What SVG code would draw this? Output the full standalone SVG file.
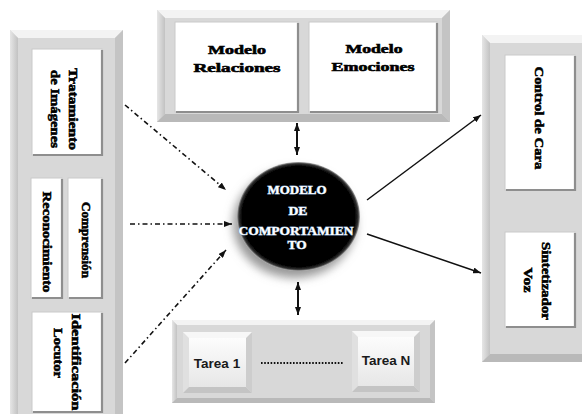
<svg xmlns="http://www.w3.org/2000/svg" width="582" height="414" viewBox="0 0 582 414">
<style>
.face{fill:#d8d8d8}
.bt{fill:#f3f3f3}
.bl{fill:url(#gl)}
.br{fill:#c4c4c4}
.bb{fill:#b9b9b9}
.card{fill:#ffffff;stroke:#c9c9c9;stroke-width:1}
.cshadow{fill:none;stroke:#8e8e8e;stroke-width:2.2}
.lbl{font-family:"Liberation Serif",serif;font-weight:bold;font-size:12px;fill:#000;stroke:#000;stroke-width:0.55;text-anchor:middle}
.ctx{font-family:"Liberation Serif",serif;font-weight:bold;font-size:11.5px;fill:#fff;stroke:#7d9cbc;stroke-width:0.9;paint-order:stroke;text-anchor:middle}
.task{font-family:"Liberation Sans",Arial,sans-serif;font-weight:bold;font-size:13.5px;fill:#1a1a1a;text-anchor:middle}
.dd{fill:none;stroke:#111;stroke-width:1.6;stroke-dasharray:5 3 1.5 3}
.sol{fill:none;stroke:#111;stroke-width:1.5}
.dbl{fill:none;stroke:#111;stroke-width:2}
</style>
<defs>
<linearGradient id="gl" x1="0" y1="0" x2="1" y2="0">
<stop offset="0" stop-color="#e6e6e6"/><stop offset="1" stop-color="#c2c2c2"/>
</linearGradient>
<linearGradient id="btn" x1="0" y1="0" x2="0" y2="1">
<stop offset="0" stop-color="#ffffff"/><stop offset="1" stop-color="#e4e4e4"/>
</linearGradient>
<radialGradient id="ball" cx="0.5" cy="0.5" r="0.5">
<stop offset="0.92" stop-color="#000"/><stop offset="0.97" stop-color="#333"/><stop offset="1" stop-color="#b0b0b0"/>
</radialGradient>
<filter id="shd" x="-30%" y="-30%" width="160%" height="170%">
<feDropShadow dx="-4" dy="7" stdDeviation="5" flood-color="#777" flood-opacity="0.75"/>
</filter>
<marker id="ah" viewBox="0 0 8 6" refX="8" refY="3" markerWidth="8" markerHeight="6" markerUnits="userSpaceOnUse" orient="auto-start-reverse">
<path d="M0,0 L8,3 L0,6 z" fill="#111"/>
</marker>
</defs>
<rect width="582" height="414" fill="#ffffff"/>

<!-- Left panel -->
<g id="panel-left">
<rect class="face" x="10" y="30" width="113" height="394"/>
<polygon class="bt" points="10,30 123,30 115,38 18,38"/>
<polygon class="bl" points="10,30 18,38 18,416 10,424"/>
<polygon class="br" points="123,30 123,424 115,416 115,38"/>
</g>
<g id="node-tratamiento">
<rect class="card" x="32" y="49" width="70" height="106"/>
<path class="cshadow" d="M102,50 V155 H33"/>
<text class="lbl" transform="translate(73,109) rotate(90)" dy="0.35em" textLength="82" lengthAdjust="spacingAndGlyphs">Tratamiento</text>
<text class="lbl" transform="translate(55,109) rotate(90)" dy="0.35em" textLength="78" lengthAdjust="spacingAndGlyphs">de Imágenes</text>
</g>
<g id="node-reconocimiento">
<rect class="card" x="31" y="178" width="31" height="120"/>
<path class="cshadow" d="M62,179 V298 H32"/>
<text class="lbl" transform="translate(47,242) rotate(90)" dy="0.35em" textLength="101" lengthAdjust="spacingAndGlyphs">Reconocimiento</text>
</g>
<g id="node-comprension">
<rect class="card" x="68" y="178" width="34" height="120"/>
<path class="cshadow" d="M102,179 V298 H69"/>
<text class="lbl" transform="translate(86,240) rotate(90)" dy="0.35em" textLength="76" lengthAdjust="spacingAndGlyphs">Comprensión</text>
</g>
<g id="node-identificacion">
<rect class="card" x="32" y="312" width="70" height="100"/>
<path class="cshadow" d="M102,313 V412 H33"/>
<text class="lbl" transform="translate(76,362) rotate(90)" dy="0.35em" textLength="97" lengthAdjust="spacingAndGlyphs">Identificación</text>
<text class="lbl" transform="translate(58,353) rotate(90)" dy="0.35em" textLength="50" lengthAdjust="spacingAndGlyphs">Locutor</text>
</g>

<!-- Top panel -->
<g id="panel-top">
<rect class="face" x="157" y="10" width="293" height="112"/>
<polygon class="bt" points="157,10 450,10 442,18 165,18"/>
<polygon class="bl" points="157,10 165,18 165,114 157,122"/>
<polygon class="br" points="450,10 450,122 442,114 442,18"/>
<polygon class="bb" points="157,122 450,122 442,114 165,114"/>
</g>
<g id="node-relaciones">
<rect class="card" x="175" y="22" width="123" height="90"/>
<path class="cshadow" d="M298,23 V112 H176"/>
<text class="lbl" x="237" y="54" textLength="58" lengthAdjust="spacingAndGlyphs">Modelo</text>
<text class="lbl" x="237" y="72" textLength="87" lengthAdjust="spacingAndGlyphs">Relaciones</text>
</g>
<g id="node-emociones">
<rect class="card" x="309" y="22" width="128" height="90"/>
<path class="cshadow" d="M437,23 V112 H310"/>
<text class="lbl" x="374" y="53" textLength="57" lengthAdjust="spacingAndGlyphs">Modelo</text>
<text class="lbl" x="373" y="71" textLength="83" lengthAdjust="spacingAndGlyphs">Emociones</text>
</g>

<!-- Right panel -->
<g id="panel-right">
<rect class="face" x="482" y="35" width="110" height="327"/>
<polygon class="bt" points="482,35 592,35 592,43 490,43"/>
<polygon class="bl" points="482,35 490,43 490,354 482,362"/>
<polygon class="bb" points="482,362 592,362 592,354 490,354"/>
</g>
<g id="node-control-cara">
<rect class="card" x="505" y="55" width="70" height="135"/>
<path class="cshadow" d="M575,56 V190 H506"/>
<text class="lbl" transform="translate(539,118) rotate(90)" dy="0.35em" textLength="103" lengthAdjust="spacingAndGlyphs">Control de Cara</text>
</g>
<g id="node-sintetizador">
<rect class="card" x="505" y="232" width="70" height="95"/>
<path class="cshadow" d="M575,233 V327 H506"/>
<text class="lbl" transform="translate(546,281) rotate(90)" dy="0.35em" textLength="78" lengthAdjust="spacingAndGlyphs">Sintetizador</text>
<text class="lbl" transform="translate(528,280) rotate(90)" dy="0.35em" textLength="25" lengthAdjust="spacingAndGlyphs">Voz</text>
</g>

<!-- Bottom panel -->
<g id="panel-bottom">
<rect class="face" x="172" y="320" width="263" height="83"/>
<polygon class="bt" points="172,320 435,320 430,325 177,325"/>
<polygon class="bl" points="172,320 177,325 177,398 172,403"/>
<polygon class="br" points="435,320 435,403 430,398 430,325"/>
<polygon class="bb" points="172,403 435,403 430,398 177,398"/>
<line x1="261" y1="363" x2="343" y2="363" stroke="#111" stroke-width="2" stroke-dasharray="1.6 1.6"/>
</g>
<g id="node-tarea1">
<rect x="183" y="332" width="69" height="61" fill="url(#btn)"/>
<polygon points="183,332 252,332 246,338 189,338" fill="#f7f7f7"/>
<polygon points="183,332 189,338 189,387 183,393" fill="#e0e0e0"/>
<polygon points="252,332 252,393 246,387 246,338" fill="#cdcdcd"/>
<polygon points="183,393 252,393 246,387 189,387" fill="#c4c4c4"/>
<text class="task" x="217" y="368">Tarea 1</text>
</g>
<g id="node-tareaN">
<rect x="352" y="331" width="68" height="61" fill="url(#btn)"/>
<polygon points="352,331 420,331 414,337 358,337" fill="#f7f7f7"/>
<polygon points="352,331 358,337 358,386 352,392" fill="#e0e0e0"/>
<polygon points="420,331 420,392 414,386 414,337" fill="#cdcdcd"/>
<polygon points="352,392 420,392 414,386 358,386" fill="#c4c4c4"/>
<text class="task" x="386" y="365">Tarea N</text>
</g>

<!-- Center -->
<g id="node-comportamiento">
<ellipse cx="298.5" cy="216.5" rx="61.5" ry="54.5" fill="url(#ball)" filter="url(#shd)"/>
<text class="ctx" x="297" y="194" textLength="59" lengthAdjust="spacingAndGlyphs">MODELO</text>
<text class="ctx" x="298" y="215" textLength="19" lengthAdjust="spacingAndGlyphs">DE</text>
<text class="ctx" x="296" y="235" textLength="115" lengthAdjust="spacingAndGlyphs">COMPORTAMIEN</text>
<text class="ctx" x="297" y="249" textLength="19" lengthAdjust="spacingAndGlyphs">TO</text>
</g>

<!-- Connectors -->
<g id="connectors">
<line class="dd" x1="125" y1="105" x2="226" y2="190" marker-end="url(#ah)"/>
<line class="dd" x1="130" y1="224" x2="232" y2="224" marker-end="url(#ah)"/>
<line class="dd" x1="125" y1="363" x2="226" y2="250" marker-end="url(#ah)"/>
<line class="sol" x1="367" y1="200" x2="481" y2="115" marker-end="url(#ah)"/>
<line class="sol" x1="367" y1="234" x2="481" y2="273" marker-end="url(#ah)"/>
<line class="dbl" x1="297" y1="123" x2="297" y2="155" marker-start="url(#ah)" marker-end="url(#ah)"/>
<line class="dbl" x1="298" y1="282" x2="298" y2="315" marker-start="url(#ah)" marker-end="url(#ah)"/>
</g>
</svg>
